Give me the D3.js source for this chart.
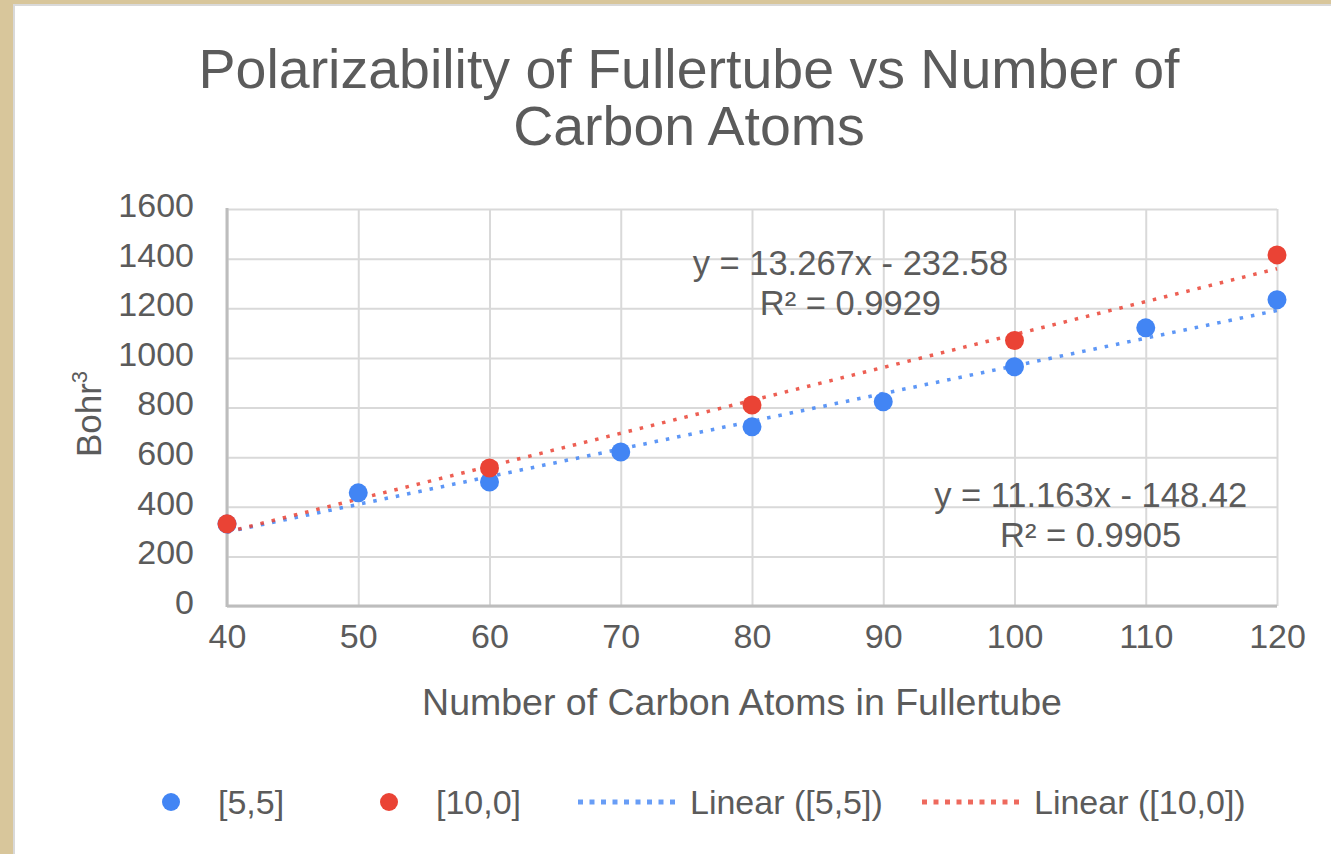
<!DOCTYPE html>
<html>
<head>
<meta charset="utf-8">
<script src="https://cdn.jsdelivr.net/npm/d3@7"></script>
<style>
    html, body { margin: 0; padding: 0; background: #ffffff; }
    svg { display: block; font-family: Arial, 'Liberation Sans', sans-serif; }
</style>
</head>
<body>
<div id="chart"></div>
<script>
// values
const carbonAtoms55 = [40, 50, 60, 70, 80, 90, 100, 110, 120]
const polarizability55 = [330, 456, 500, 621, 722, 823, 964, 1121, 1234]
const carbonAtoms100 = [40, 60, 80, 100, 120]
const polarizability100 = [331, 556, 810, 1070, 1415]

const seriesNames = ['[5,5]', '[10,0]']
const trendNames = ['Linear ([5,5])', 'Linear ([10,0])']
const trendSlopes = [11.163, 13.267]
const trendIntercepts = [-148.42, -232.58]
const trendR2 = [0.9905, 0.9929]

const xTickValues = [40, 50, 60, 70, 80, 90, 100, 110, 120]
const yTickValues = [0, 200, 400, 600, 800, 1000, 1200, 1400, 1600]

const titleLines = ['Polarizability of Fullertube vs Number of', 'Carbon Atoms']
const xTitle = 'Number of Carbon Atoms in Fullertube'
const yTitle = 'Bohr'

class FullertubeChart {
    constructor(selector) {
        this.selector = selector
        this.WIDTH = 1331
        this.HEIGHT = 854
        this.PLOT = { LEFT: 227, RIGHT: 1277, TOP: 209, BOTTOM: 606 }
        this.COLORS = ['#4285f4', '#ea4335']
        this.TEXT = '#5b5b5b'
    }

    init() {
        this.initContainer()
        this.initScales()
        this.initGrid()
        this.initTitles()
        this.initTrendlines()
        this.initPoints()
        this.initEquations()
        this.initLegend()
    }

    initContainer() {
        this.svg = d3.select(this.selector)
            .append('svg')
            .attr('width', this.WIDTH)
            .attr('height', this.HEIGHT)

        // frame of the page the chart sits in
        this.svg.append('rect')
            .attr('width', this.WIDTH).attr('height', this.HEIGHT)
            .attr('fill', '#d8c69b')
        this.svg.append('rect')
            .attr('x', 13).attr('y', 4)
            .attr('width', this.WIDTH).attr('height', this.HEIGHT)
            .attr('fill', '#d9d9d9')
        this.svg.append('rect')
            .attr('x', 15).attr('y', 6)
            .attr('width', this.WIDTH).attr('height', this.HEIGHT)
            .attr('fill', '#ffffff')
    }

    initScales() {
        this.x = d3.scaleLinear()
            .domain([40, 120])
            .range([this.PLOT.LEFT, this.PLOT.RIGHT])
        this.y = d3.scaleLinear()
            .domain([0, 1600])
            .range([this.PLOT.BOTTOM, this.PLOT.TOP])
    }

    initGrid() {
        const xAxis = d3.axisBottom(this.x)
            .tickValues(xTickValues)
            .tickFormat(d3.format('d'))
            .tickSize(-(this.PLOT.BOTTOM - this.PLOT.TOP))
            .tickPadding(18)
        const yAxis = d3.axisLeft(this.y)
            .tickValues(yTickValues)
            .tickFormat(d3.format('d'))
            .tickSize(-(this.PLOT.RIGHT - this.PLOT.LEFT))
            .tickPadding(33)

        const gx = this.svg.append('g')
            .attr('transform', `translate(0,${this.PLOT.BOTTOM})`)
            .call(xAxis)
        const gy = this.svg.append('g')
            .attr('transform', `translate(${this.PLOT.LEFT},0)`)
            .call(yAxis)

        for (const g of [gx, gy]) {
            g.select('.domain').remove()
            g.selectAll('.tick line')
                .attr('stroke', '#d9d9d9')
                .attr('stroke-width', 2)
            g.selectAll('.tick text')
                .attr('fill', this.TEXT)
                .style('font-size', '34px')
        }
        gx.selectAll('.tick text').attr('dy', '0.71em')
        gy.selectAll('.tick text').attr('dy', '0.22em')

        // darker baseline and left axis
        this.svg.append('line')
            .attr('x1', this.PLOT.LEFT).attr('x2', this.PLOT.RIGHT)
            .attr('y1', this.y(0)).attr('y2', this.y(0))
            .attr('stroke', '#bdbdbd').attr('stroke-width', 3)
        this.svg.append('line')
            .attr('x1', this.x(40)).attr('x2', this.x(40))
            .attr('y1', this.PLOT.TOP - 1).attr('y2', this.PLOT.BOTTOM + 1)
            .attr('stroke', '#bdbdbd').attr('stroke-width', 3)
    }

    initTitles() {
        this.svg.append('g')
            .selectAll('text')
            .data(titleLines)
            .join('text')
            .attr('x', 689)
            .attr('y', (d, i) => 88 + i * 57)
            .attr('text-anchor', 'middle')
            .attr('fill', this.TEXT)
            .style('font-size', '55.5px')
            .text((d) => d)

        this.svg.append('text')
            .attr('x', (this.PLOT.LEFT + this.PLOT.RIGHT) / 2 - 10)
            .attr('y', 715)
            .attr('text-anchor', 'middle')
            .attr('fill', this.TEXT)
            .style('font-size', '37.5px')
            .text(xTitle)

        const yLabel = this.svg.append('text')
            .attr('transform', 'translate(101,414) rotate(-90)')
            .attr('text-anchor', 'middle')
            .attr('fill', this.TEXT)
            .style('font-size', '35px')
        yLabel.append('tspan').text(yTitle)
        yLabel.append('tspan')
            .attr('dy', -14)
            .style('font-size', '22px')
            .text('3')
    }

    initTrendlines() {
        this.svg.append('g')
            .selectAll('line')
            .data(trendSlopes)
            .join('line')
            .attr('x1', this.x(40))
            .attr('x2', this.x(120))
            .attr('y1', (d, i) => this.y(d * 40 + trendIntercepts[i]))
            .attr('y2', (d, i) => this.y(d * 120 + trendIntercepts[i]))
            .attr('stroke', (d, i) => this.COLORS[i])
            .attr('stroke-opacity', 0.85)
            .attr('stroke-width', 3.5)
            .attr('stroke-dasharray', '3.5 8')
    }

    initPoints() {
        const series = [
            carbonAtoms55.map((c, i) => [c, polarizability55[i]]),
            carbonAtoms100.map((c, i) => [c, polarizability100[i]]),
        ]
        series.forEach((points, s) => {
            this.svg.append('g')
                .selectAll('circle')
                .data(points)
                .join('circle')
                .attr('cx', (d) => this.x(d[0]))
                .attr('cy', (d) => this.y(d[1]))
                .attr('r', 9.5)
                .attr('fill', this.COLORS[s])
        })
    }

    initEquations() {
        // label anchors in data units, below the right end for [5,5], above the middle for [10,0]
        const anchors = [[105.8, 399], [87.5, 1335]]
        trendSlopes.forEach((slope, i) => {
            const g = this.svg.append('text')
                .attr('text-anchor', 'middle')
                .attr('fill', this.TEXT)
                .style('font-size', '34.5px')
            const cx = this.x(anchors[i][0])
            const cy = this.y(anchors[i][1])
            const sign = trendIntercepts[i] < 0 ? '-' : '+'
            g.append('tspan')
                .attr('x', cx).attr('y', cy)
                .text(`y = ${slope}x ${sign} ${Math.abs(trendIntercepts[i])}`)
            g.append('tspan')
                .attr('x', cx).attr('y', cy + 40)
                .text(`R² = ${trendR2[i]}`)
        })
    }

    initLegend() {
        const legend = this.svg.append('g')
        const cy = 802
        const dotX = [171, 389]
        seriesNames.forEach((name, i) => {
            legend.append('circle')
                .attr('cx', dotX[i]).attr('cy', cy)
                .attr('r', 9)
                .attr('fill', this.COLORS[i])
            legend.append('text')
                .attr('x', dotX[i] + 47).attr('y', cy + 12)
                .attr('fill', this.TEXT)
                .style('font-size', '34px')
                .text(name)
        })
        const lineX = [578, 922]
        trendNames.forEach((name, i) => {
            legend.append('line')
                .attr('x1', lineX[i]).attr('x2', lineX[i] + 102)
                .attr('y1', cy).attr('y2', cy)
                .attr('stroke', this.COLORS[i])
                .attr('stroke-opacity', 0.8)
                .attr('stroke-width', 5)
                .attr('stroke-dasharray', '5 6.5')
            legend.append('text')
                .attr('x', lineX[i] + 112).attr('y', cy + 12)
                .attr('fill', this.TEXT)
                .style('font-size', '34px')
                .text(name)
        })
    }
}

new FullertubeChart('#chart').init()
</script>
</body>
</html>
